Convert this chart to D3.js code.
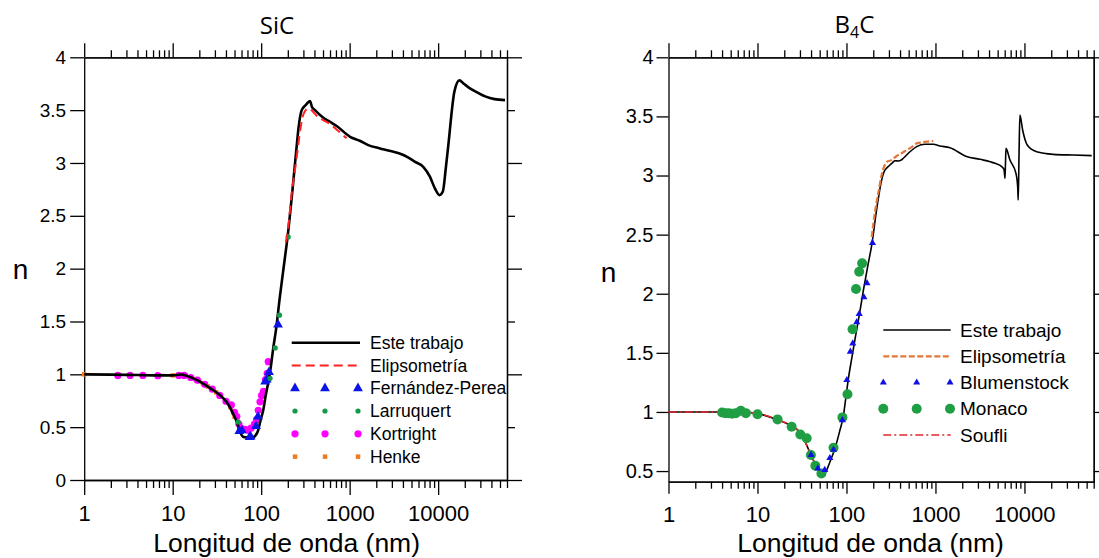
<!DOCTYPE html>
<html lang="es">
<head>
<meta charset="UTF-8">
<title>Índice de refracción n: SiC y B4C</title>
<script src="https://cdn.jsdelivr.net/npm/d3@7"></script>
<style>
body { margin: 0; background: #fff; }
svg { display: block; font-family: "Liberation Sans", Arial, sans-serif; }
.axis path, .axis line { stroke: #000; stroke-width: 1.3px; }
.axis text { fill: #000; }
.title { font-family: "Open Sans", "Noto Sans", sans-serif; font-size: 24px; }
</style>
</head>
<body>
<svg width="1099" height="558"></svg>
<script>
// ---- ticks ----
const xMajor = [1, 10, 100, 1000, 10000];
const xMinor = [2, 3, 4, 5, 6, 7, 8, 9, 20, 30, 40, 50, 60, 70, 80, 90,
  200, 300, 400, 500, 600, 700, 800, 900, 2000, 3000, 4000, 5000, 6000, 7000, 8000, 9000,
  20000, 30000, 40000, 50000, 60000];
const yTicksSiC = [0, 0.5, 1, 1.5, 2, 2.5, 3, 3.5, 4];
const yTicksB4C = [0.5, 1, 1.5, 2, 2.5, 3, 3.5, 4];

// ---- SiC : [longitud de onda (nm), n] ----
const sicEste = [[1, 1.0], [2, 0.997], [4, 0.993], [7, 0.99], [10, 0.99], [12.6, 0.998], [14, 0.99],
  [17, 0.962], [21, 0.925], [25, 0.883], [30, 0.84], [34, 0.804], [40, 0.745], [44, 0.693], [48, 0.63],
  [53, 0.552], [58.6, 0.442], [62, 0.41], [66, 0.404], [75, 0.40], [81.5, 0.404], [86, 0.42],
  [92.7, 0.473], [98, 0.56], [105.6, 0.662], [112, 0.79], [120, 0.92], [128, 1.06], [137, 1.25],
  [147, 1.42], [163, 1.74], [180, 2.02], [200, 2.32], [228, 2.78], [250, 3.13], [265, 3.34],
  [287, 3.50], [320, 3.55], [356, 3.585], [375, 3.53], [405, 3.50], [500, 3.43], [600, 3.39],
  [713, 3.35], [1010, 3.248], [1300, 3.21], [1622, 3.169], [2200, 3.138], [2805, 3.116],
  [4045, 3.075], [4400, 3.06], [5500, 3.01], [6790, 2.964], [8070, 2.87], [9190, 2.76],
  [10350, 2.696], [11300, 2.73], [12200, 2.95], [13000, 3.16], [15300, 3.68], [17400, 3.782], [19500, 3.75],
  [22880, 3.706], [28000, 3.665], [34000, 3.63], [43400, 3.604], [57000, 3.595]];
const sicElips = [[190, 2.25], [200, 2.36], [221, 2.71], [250, 3.03], [275, 3.30], [300, 3.46],
  [341, 3.516], [380, 3.49], [420, 3.45], [503, 3.406], [600, 3.37], [682, 3.33], [800, 3.28], [925, 3.233]];
const sicFernandez = [[56.6, 0.463], [60.6, 0.47], [74, 0.405], [76, 0.41], [87.4, 0.51], [92, 0.6],
  [111, 0.93], [115.7, 0.95], [122.5, 1.02], [155, 1.47]];
const sicLarruquert = [[55, 0.55], [126, 0.962], [144, 1.25], [161, 1.56], [202, 2.30]];
const sicKortright = [[2.4, 0.99], [3.3, 0.99], [4.6, 0.99], [6.8, 0.987], [11.7, 0.99], [13.5, 0.99],
  [16, 0.97], [19, 0.945], [23, 0.905], [28, 0.86], [34, 0.80], [40, 0.745], [46, 0.71], [50, 0.64],
  [53, 0.60], [56, 0.53], [59, 0.49], [62, 0.48], [66, 0.48], [71, 0.47], [77, 0.49], [84, 0.53],
  [88.8, 0.57], [92.7, 0.66], [97, 0.74], [101, 0.80], [106, 0.84], [112, 0.95], [117, 1.01], [120.3, 1.12]];
const sicHenke = [[1, 1.0], [10, 0.99], [12, 0.995], [14, 0.99], [16, 0.97], [18, 0.955], [20, 0.935],
  [22, 0.915], [25, 0.885], [28, 0.858], [31, 0.83], [35, 0.795], [40, 0.745], [45, 0.69], [50, 0.6]];

// ---- B4C ----
const b4cEste = [[1, 1.0], [3, 1.0], [6.36, 1.0], [9.8, 0.988], [16.4, 0.937], [23.2, 0.889], [28, 0.85],
  [31.4, 0.805], [35.7, 0.72], [40.6, 0.621], [46.3, 0.536], [50.4, 0.475], [53, 0.465], [57.3, 0.48],
  [65.3, 0.579], [74.3, 0.692], [84.5, 0.847], [92, 0.96], [98.7, 1.13], [105, 1.28], [115, 1.46],
  [125, 1.62], [140, 1.83], [155, 2.03], [175, 2.25], [192, 2.41], [218, 2.71], [248, 2.96], [264, 3.03],
  [280, 3.06], [308, 3.089], [330, 3.11], [351, 3.125], [382, 3.123], [410, 3.13], [435, 3.146],
  [517, 3.201], [615, 3.244], [762, 3.264], [945, 3.264], [1124, 3.25], [1456, 3.235], [2240, 3.16],
  [3163, 3.137], [4667, 3.103], [5550, 3.075], [5900, 3.05], [6040, 2.976], [6120, 3.1], [6200, 3.23],
  [6870, 3.131], [8020, 3.019], [8400, 2.9], [8510, 2.793], [8700, 3.2], [8890, 3.512], [9540, 3.385],
  [10750, 3.258], [13700, 3.201], [21080, 3.179], [35300, 3.173], [57000, 3.168]];
const b4cElips = [[192, 2.48], [210, 2.7], [230, 2.87], [248, 3.004], [287.5, 3.117], [320, 3.13],
  [366, 3.165], [420, 3.19], [474, 3.216], [540, 3.24], [615, 3.272], [700, 3.28], [796, 3.286], [945, 3.292]];
const b4cSoufli = [[1, 1.0], [2, 1.0], [4, 1.0], [6, 1.0], [9.8, 0.988], [16.4, 0.937], [23.2, 0.889],
  [31.4, 0.805], [35.7, 0.72], [40.6, 0.621], [46, 0.54]];
const b4cBlumenstock = [[40, 0.636], [47.7, 0.523], [57, 0.51], [65, 0.61], [71.5, 0.68], [90, 0.93],
  [101, 1.27], [110.5, 1.51], [117.7, 1.58], [130.5, 1.76], [139, 1.83], [157, 1.97], [170, 2.09], [196, 2.43]];
const b4cMonaco = [[4.0, 0.995], [4.35, 0.99], [4.75, 0.99], [5.2, 0.985], [5.7, 0.99], [6.5, 1.01],
  [7.4, 0.99], [10, 0.98], [16.8, 0.937], [24.2, 0.875], [30.3, 0.81], [35.7, 0.777], [39.8, 0.636],
  [44.7, 0.545], [52.3, 0.48], [71.5, 0.697], [90, 0.954], [102.6, 1.15], [117, 1.70], [128, 2.04],
  [139, 2.186], [150, 2.257]];

const svg = d3.select('svg');

function axes(g, x, y, o) {
  const y0 = y.range()[0], y1 = y.range()[1], x0 = x.range()[0], x1 = x.range()[1];
  const ax = (gen, tr) => {
    const a = g.append('g').attr('class', 'axis').attr('transform', tr).call(gen);
    a.attr('font-family', null).attr('font-size', null);
    return a;
  };
  ax(d3.axisBottom(x).tickValues(xMajor).tickFormat(d3.format('d')).tickSize(o.bMaj)
      .tickSizeOuter(0).tickPadding(o.bPad), `translate(0,${y0})`)
    .style('font-size', o.xFont + 'px');
  ax(d3.axisBottom(x).tickValues(xMinor).tickFormat('').tickSize(o.bMin).tickSizeOuter(0), `translate(0,${y0})`);
  ax(d3.axisTop(x).tickValues(xMajor).tickFormat('').tickSize(14).tickSizeOuter(0), `translate(0,${y1})`);
  ax(d3.axisTop(x).tickValues(xMinor).tickFormat('').tickSize(7).tickSizeOuter(0), `translate(0,${y1})`);
  ax(d3.axisLeft(y).tickValues(o.yTicks).tickFormat(d => d).tickSize(o.lTick)
      .tickSizeOuter(0).tickPadding(o.lPad), `translate(${x0},0)`)
    .style('font-size', o.yFont + 'px');
  ax(d3.axisRight(y).tickValues(o.yTicks.filter(d => d % 1 === 0)).tickFormat('').tickSize(o.rMaj)
      .tickSizeOuter(0), `translate(${x1},0)`);
  ax(d3.axisRight(y).tickValues(o.yTicks.filter(d => d % 1 !== 0)).tickFormat('').tickSize(o.rMin)
      .tickSizeOuter(0), `translate(${x1},0)`);
}

function path(g, data, x, y, color, width, dash) {
  g.append('path').datum(data)
    .attr('fill', 'none').attr('stroke', color).attr('stroke-width', width)
    .attr('stroke-dasharray', dash || null).attr('stroke-linejoin', 'round')
    .attr('d', d3.line().x(d => x(d[0])).y(d => y(d[1])).curve(d3.curveMonotoneX));
}

function dots(g, data, x, y, color, r) {
  g.append('g').selectAll('circle').data(data).join('circle')
    .attr('cx', d => x(d[0])).attr('cy', d => y(d[1])).attr('r', r).attr('fill', color);
}

function tris(g, data, x, y, color, size) {
  g.append('g').selectAll('path').data(data).join('path')
    .attr('transform', d => `translate(${x(d[0])},${y(d[1])})`)
    .attr('d', d3.symbol(d3.symbolTriangle, size)).attr('fill', color);
}

function squares(g, data, x, y, color, s) {
  g.append('g').selectAll('rect').data(data).join('rect')
    .attr('x', d => x(d[0]) - s / 2).attr('y', d => y(d[1]) - s / 2)
    .attr('width', s).attr('height', s).attr('fill', color);
}

// ================= SiC =================
const x1 = d3.scaleLog().domain([1, 60000]).range([84.2, 507]);
const y1 = d3.scaleLinear().domain([0, 4]).range([480, 57.3]);
const g1 = svg.append('g');

axes(g1, x1, y1, {yTicks: yTicksSiC, bMaj: 15, bMin: 8, bPad: 10, xFont: 22,
  lTick: 14, lPad: 4, yFont: 19, rMaj: 15, rMin: 8});

squares(g1, sicHenke, x1, y1, '#f07a20', 4.5);
dots(g1, sicKortright, x1, y1, '#ff00ff', 3.6);
path(g1, sicEste, x1, y1, '#000', 2.6);
tris(g1, sicFernandez, x1, y1, '#0a14e6', 42);
dots(g1, sicLarruquert, x1, y1, '#129a48', 2.6);
path(g1, sicElips, x1, y1, '#ff2020', 2, '9,5');

g1.append('text').attr('class', 'title').attr('x', 277).attr('y', 34)
  .attr('text-anchor', 'middle').text('SiC');
g1.append('text').attr('x', 286.7).attr('y', 552).attr('text-anchor', 'middle')
  .style('font-size', '26.5px').text('Longitud de onda (nm)');
g1.append('text').attr('x', 20.5).attr('y', 279).attr('text-anchor', 'middle')
  .style('font-size', '28px').text('n');

// legend SiC
const l1 = g1.append('g').style('font-size', '17.5px');
const l1y = [342.7, 365.5, 388.3, 411, 433.8, 456.6];
const l1txt = ['Este trabajo', 'Elipsometría', 'Fernández-Perea', 'Larruquert', 'Kortright', 'Henke'];
l1.append('line').attr('x1', 291.7).attr('x2', 360).attr('y1', l1y[0]).attr('y2', l1y[0])
  .attr('stroke', '#000').attr('stroke-width', 2.6);
l1.append('line').attr('x1', 291.7).attr('x2', 360).attr('y1', l1y[1]).attr('y2', l1y[1])
  .attr('stroke', '#ff2020').attr('stroke-width', 2).attr('stroke-dasharray', '9,5');
[295, 325, 358].forEach(mx => {
  l1.append('path').attr('transform', `translate(${mx},${l1y[2]})`)
    .attr('d', d3.symbol(d3.symbolTriangle, 42)).attr('fill', '#0a14e6');
  l1.append('circle').attr('cx', mx).attr('cy', l1y[3]).attr('r', 2.6).attr('fill', '#129a48');
  l1.append('circle').attr('cx', mx).attr('cy', l1y[4]).attr('r', 3.6).attr('fill', '#ff00ff');
  l1.append('rect').attr('x', mx - 2.2).attr('y', l1y[5] - 2.2).attr('width', 4.5).attr('height', 4.5)
    .attr('fill', '#f07a20');
});
l1txt.forEach((t, i) => l1.append('text').attr('x', 370).attr('y', l1y[i]).attr('dy', '0.35em').text(t));

// ================= B4C =================
const x2 = d3.scaleLog().domain([1, 60000]).range([668.5, 1093.7]);
const y2 = d3.scaleLinear().domain([0.41, 4]).range([481.7, 57.3]);
const g2 = svg.append('g');

axes(g2, x2, y2, {yTicks: yTicksB4C, bMaj: 12, bMin: 7, bPad: 13, xFont: 22,
  lTick: 12, lPad: 3, yFont: 20, rMaj: 7, rMin: 7});

path(g2, b4cEste, x2, y2, '#000', 1.6);
path(g2, b4cSoufli, x2, y2, '#e3262b', 1.6, '8,3,2,3');
dots(g2, b4cMonaco, x2, y2, '#1f9e44', 5);
tris(g2, b4cBlumenstock, x2, y2, '#1010e6', 22);
path(g2, b4cElips, x2, y2, '#e4773a', 2.2, '6,2.5');

const t2 = g2.append('text').attr('class', 'title').attr('x', 854.5).attr('y', 33).attr('text-anchor', 'middle');
t2.append('tspan').text('B');
t2.append('tspan').attr('dy', 5).style('font-size', '16px').text('4');
t2.append('tspan').attr('dy', -5).text('C');
g2.append('text').attr('x', 870.6).attr('y', 552).attr('text-anchor', 'middle')
  .style('font-size', '26.5px').text('Longitud de onda (nm)');
g2.append('text').attr('x', 608.5).attr('y', 282).attr('text-anchor', 'middle')
  .style('font-size', '28px').text('n');

// legend B4C
const l2 = g2.append('g').style('font-size', '19px');
const l2y = [330, 356.3, 382.5, 408.8, 435];
const l2txt = ['Este trabajo', 'Elipsometría', 'Blumenstock', 'Monaco', 'Soufli'];
l2.append('line').attr('x1', 883.3).attr('x2', 950.7).attr('y1', l2y[0]).attr('y2', l2y[0])
  .attr('stroke', '#000').attr('stroke-width', 1.6);
l2.append('line').attr('x1', 883.3).attr('x2', 950.7).attr('y1', l2y[1]).attr('y2', l2y[1])
  .attr('stroke', '#e4773a').attr('stroke-width', 2.2).attr('stroke-dasharray', '6,2.5');
l2.append('line').attr('x1', 883.3).attr('x2', 950.7).attr('y1', l2y[4]).attr('y2', l2y[4])
  .attr('stroke', '#e3262b').attr('stroke-width', 1.6).attr('stroke-dasharray', '8,3,2,3');
[883.3, 916.7, 950].forEach(mx => {
  l2.append('path').attr('transform', `translate(${mx},${l2y[2]})`)
    .attr('d', d3.symbol(d3.symbolTriangle, 22)).attr('fill', '#1010e6');
  l2.append('circle').attr('cx', mx).attr('cy', l2y[3]).attr('r', 5).attr('fill', '#1f9e44');
});
l2txt.forEach((t, i) => l2.append('text').attr('x', 960).attr('y', l2y[i]).attr('dy', '0.35em').text(t));
</script>
</body>
</html>
